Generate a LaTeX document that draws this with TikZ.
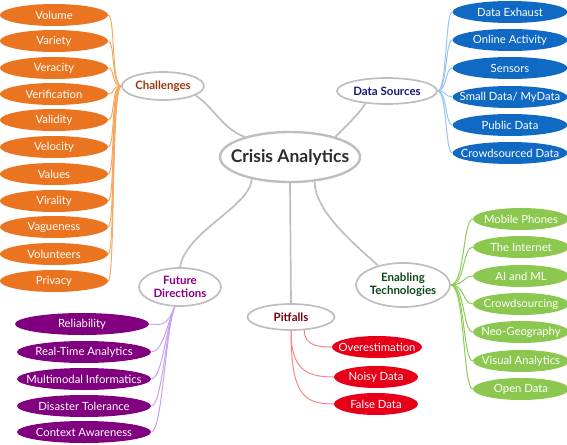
\documentclass[tikz,border=0pt]{standalone}
\usepackage{fontspec}
\setmainfont{Lato}
\usetikzlibrary{shapes.geometric}
\definecolor{hubgray}{RGB}{190, 190, 190}
\definecolor{coretext}{RGB}{45, 45, 45}
\definecolor{chalorange}{RGB}{234, 116, 32}
\definecolor{challink}{RGB}{247, 168, 96}
\definecolor{chaltext}{RGB}{150, 58, 14}
\definecolor{srcblue}{RGB}{16, 106, 196}
\definecolor{srclink}{RGB}{150, 196, 240}
\definecolor{srctext}{RGB}{20, 24, 120}
\definecolor{techgreen}{RGB}{140, 200, 80}
\definecolor{techlink}{RGB}{140, 204, 84}
\definecolor{techtext}{RGB}{14, 70, 26}
\definecolor{futpurple}{RGB}{128, 0, 128}
\definecolor{futlink}{RGB}{200, 160, 240}
\definecolor{futtext}{RGB}{136, 0, 136}
\definecolor{pitred}{RGB}{232, 0, 24}
\definecolor{pitlink}{RGB}{244, 136, 136}
\definecolor{pittext}{RGB}{120, 0, 16}

\begin{document}
\begin{tikzpicture}[
    x=1pt, y=-1pt,
    hub/.style={ellipse, draw=hubgray, line width=1.7pt, fill=white, inner sep=0pt, align=center, font=\bfseries\fontsize{11.5}{12.5}\selectfont},
    core/.style={hub, line width=2.4pt, inner xsep=-11pt, minimum width=140pt, minimum height=50pt, text=coretext, font=\bfseries\fontsize{17.5}{19}\selectfont},
    leaf/.style={ellipse, inner sep=0pt, inner xsep=-14pt, minimum height=22pt, text=white, font=\fontsize{11.3}{13}\selectfont},
    challeaf/.style={leaf, fill=chalorange, minimum width=108pt},
    srcleaf/.style={leaf, fill=srcblue, minimum width=115pt},
    techleaf/.style={leaf, fill=techgreen, minimum width=96pt},
    futleaf/.style={leaf, fill=futpurple, minimum width=134pt},
    pitleaf/.style={leaf, fill=pitred, minimum width=84pt},
    trunk/.style={hubgray, line width=1.7pt},
    twig/.style={line width=1pt}
]
\useasboundingbox (0,0) rectangle (567,444);

% Centre and main topics
\node[core] (ca) at (290,157) {Crisis Analytics};
\node[hub, text=chaltext, minimum width=82pt, minimum height=28pt] (chal) at (163,86) {Challenges};
\node[hub, text=srctext, minimum width=100pt, minimum height=26pt] (src) at (387,91) {Data Sources};
\node[hub, text=futtext, minimum width=82pt, minimum height=38pt] (fut) at (180,287) {Future\\Directions};
\node[hub, text=techtext, minimum width=94pt, minimum height=44pt] (tech) at (403,285) {Enabling\\Technologies};
\node[hub, text=pittext, minimum width=87pt, minimum height=26pt] (pit) at (291,317) {Pitfalls};

% Challenges
\node[challeaf] (volume) at (54,15) {Volume};
\node[challeaf] (variety) at (54,41) {Variety};
\node[challeaf] (veracity) at (54,68) {Veracity};
\node[challeaf] (verification) at (54,94) {Verification};
\node[challeaf] (validity) at (54,120) {Validity};
\node[challeaf] (velocity) at (54,147) {Velocity};
\node[challeaf] (values) at (54,174) {Values};
\node[challeaf] (virality) at (54,201) {Virality};
\node[challeaf] (vagueness) at (54,227) {Vagueness};
\node[challeaf] (volunteers) at (54,254) {Volunteers};
\node[challeaf] (privacy) at (54,281) {Privacy};

% Data sources
\node[srcleaf] (exhaust) at (510,12) {Data Exhaust};
\node[srcleaf] (online) at (510,40) {Online Activity};
\node[srcleaf] (sensors) at (510,68) {Sensors};
\node[srcleaf] (smalldata) at (510,97) {Small Data/ MyData};
\node[srcleaf] (public) at (510,125) {Public Data};
\node[srcleaf] (crowddata) at (510,153) {Crowdsourced Data};

% Enabling technologies
\node[techleaf] (mobile) at (521,219) {Mobile Phones};
\node[techleaf] (internet) at (521,247) {The Internet};
\node[techleaf] (aiml) at (521,276) {AI and ML};
\node[techleaf] (crowdsourcing) at (521,304) {Crowdsourcing};
\node[techleaf] (neogeo) at (521,332) {Neo-Geography};
\node[techleaf] (visual) at (521,361) {Visual Analytics};
\node[techleaf] (opendata) at (521,389) {Open Data};

% Future directions
\node[futleaf] (reliability) at (82,324) {Reliability};
\node[futleaf] (realtime) at (84,352) {Real-Time Analytics};
\node[futleaf] (multimodal) at (84,379) {Multimodal Informatics};
\node[futleaf] (tolerance) at (84,406) {Disaster Tolerance};
\node[futleaf] (awareness) at (84,432) {Context Awareness};

% Pitfalls
\node[pitleaf, minimum width=90pt] (overest) at (377,347) {Overestimation};
\node[pitleaf] (noisy) at (376,377) {Noisy Data};
\node[pitleaf] (falsedata) at (376,404) {False Data};

% Centre links
\draw[trunk] (ca.156) .. controls +(-22,-8) and +(18,12) .. (chal.-16);
\draw[trunk] (ca.24) .. controls +(10,-10) and +(-6,10) .. (src.-150);
\draw[trunk] (ca.-150) .. controls +(-2,28) and +(6,-36) .. (fut.north);
\draw[trunk] (ca.south) -- (pit.north);
\draw[trunk] (ca.-45) .. controls +(0,30) and +(-22,-20) .. (tech.142);

% Challenge links
\foreach \leaf in {volume, variety, veracity, verification, validity, velocity, values, virality, vagueness, volunteers, privacy}
  \draw[twig, challink] (chal.west) .. controls +(-10,0) and +(7,0) .. (\leaf.east);

% Source links
\foreach \leaf in {exhaust, online, sensors, smalldata, public, crowddata}
  \draw[twig, srclink] (src.east) .. controls +(9,0) and +(-7,0) .. (\leaf.west);

% Technology links
\foreach \leaf in {mobile, internet, aiml, crowdsourcing, neogeo, visual, opendata}
  \draw[twig, techlink] (tech.east) .. controls +(14,0) and +(-10,0) .. (\leaf.west);

% Future direction links
\foreach \leaf in {reliability, realtime, multimodal, tolerance, awareness}
  \draw[twig, futlink] (fut.-105) .. controls +(-9,22) and +(11,0) .. (\leaf.east);

% Pitfall links
\draw[twig, pitlink] (pit.-45) .. controls +(0,16) and +(-12,0) .. (overest.west);
\draw[twig, pitlink] (pit.south) .. controls +(0,38) and +(-28,0) .. (noisy.west);
\draw[twig, pitlink] (pit.south) .. controls +(0,64) and +(-30,0) .. (falsedata.west);

\end{tikzpicture}
\end{document}
